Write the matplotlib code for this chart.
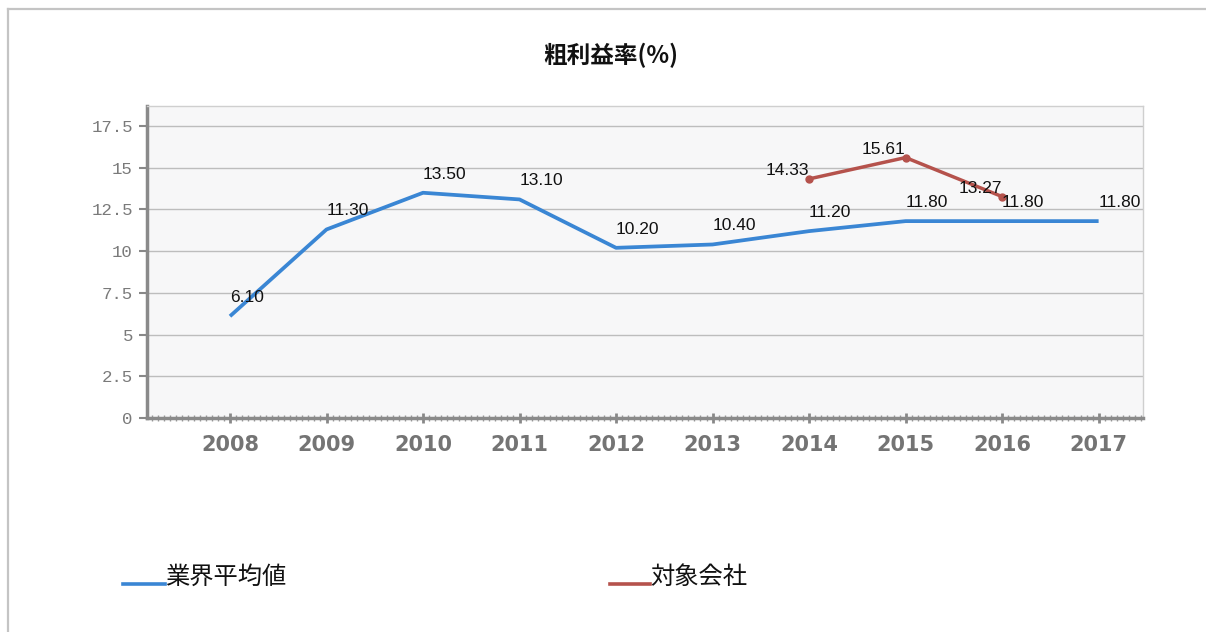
import matplotlib
matplotlib.use("Agg")
import matplotlib.pyplot as plt
from matplotlib.lines import Line2D
from matplotlib.ticker import MultipleLocator, FixedLocator

plt.rcParams['font.family'] = ['Noto Sans CJK JP', 'DejaVu Sans']

title = "粗利益率(%)"
years = [2008, 2009, 2010, 2011, 2012, 2013, 2014, 2015, 2016, 2017]
industry_avg = [6.10, 11.30, 13.50, 13.10, 10.20, 10.40, 11.20, 11.80, 11.80, 11.80]
company_years = [2014, 2015, 2016]
company = [14.33, 15.61, 13.27]
series_names = ["業界平均値", "対象会社"]
yticks = [0, 2.5, 5, 7.5, 10, 12.5, 15, 17.5]
ytick_labels = ["0", "2.5", "5", "7.5", "10", "12.5", "15", "17.5"]

blue = "#3a86d4"
red = "#b5524c"

W, H = 1206, 632
fig = plt.figure(figsize=(W / 100, H / 100), dpi=100)
fig.patch.set_facecolor("white")

# outer frame (top and left edges only visible)
fig.lines.append(Line2D([8 / W, 1.0], [1 - 9 / H, 1 - 9 / H], transform=fig.transFigure,
                        color="#c4c4c4", linewidth=1.6))
fig.lines.append(Line2D([8 / W, 8 / W], [0, 1 - 9 / H], transform=fig.transFigure,
                        color="#c4c4c4", linewidth=1.6))

ax = fig.add_axes([146.7 / W, (H - 418) / H, (1143 - 146.7) / W, (418 - 106) / H])
ax.set_facecolor("#f7f7f8")
ax.set_xlim(2007.137, 2017.46)
ax.set_ylim(0, 18.7)

ax.set_yticks(yticks)
ax.set_yticklabels(ytick_labels, family="Liberation Mono", fontsize=12.5, color="#7a7a7a")
ax.xaxis.set_major_locator(FixedLocator(years))
ax.set_xticklabels([str(y) for y in years], family="DejaVu Sans", fontsize=15,
                   fontweight="bold", color="#747474")
ax.xaxis.set_minor_locator(MultipleLocator(0.0625))
ax.tick_params(axis="x", which="major", length=7, width=2, color="#888888", pad=9, direction="inout")
ax.tick_params(axis="x", which="minor", length=4, width=1, color="#999999", direction="inout")
ax.tick_params(axis="y", which="major", length=6, width=1.5, color="#888888", pad=4)

ax.grid(axis="y", color="#bdbdbd", linewidth=1)
ax.set_axisbelow(True)
for s in ["top", "right"]:
    ax.spines[s].set_color("#cfcfcf")
    ax.spines[s].set_linewidth(1)
for s in ["left", "bottom"]:
    ax.spines[s].set_color("#8a8a8a")
    ax.spines[s].set_linewidth(2.5)

l1, = ax.plot(years, industry_avg, color=blue, linewidth=2.7, solid_capstyle="butt")
l2, = ax.plot(company_years, company, color=red, linewidth=2.5, marker="o", markersize=5)

for x, v in zip(years, industry_avg):
    t = ax.annotate(f"{v:.2f}", (x, v), xytext=(0, 11), textcoords="offset pixels",
                    ha="left", va="bottom", family="Liberation Sans", fontsize=12.5,
                    color="#111111")
    t.set_clip_on(True)
for x, v in zip(company_years, company):
    ax.annotate(f"{v:.2f}", (x, v), xytext=(0, 1), textcoords="offset pixels",
                ha="right", va="bottom", family="Liberation Sans", fontsize=12.5,
                color="#111111")

fig.text(611 / W, 1 - 55 / H, title, ha="center", va="center", fontsize=17,
         fontweight="bold", color="#111111")

# legend
def legend_item(x0, x1, y, color, label):
    fig.lines.append(Line2D([x0 / W, x1 / W], [1 - y / H, 1 - y / H],
                            transform=fig.transFigure, color=color, linewidth=2.6))
    fig.text(x1 / W, 1 - (y - 7) / H, label, ha="left", va="center",
             fontsize=17.5, color="#111111")

legend_item(123, 165, 584, l1.get_color(), series_names[0])
legend_item(610, 650, 584, l2.get_color(), series_names[1])

fig.savefig("out.png", dpi=100)
